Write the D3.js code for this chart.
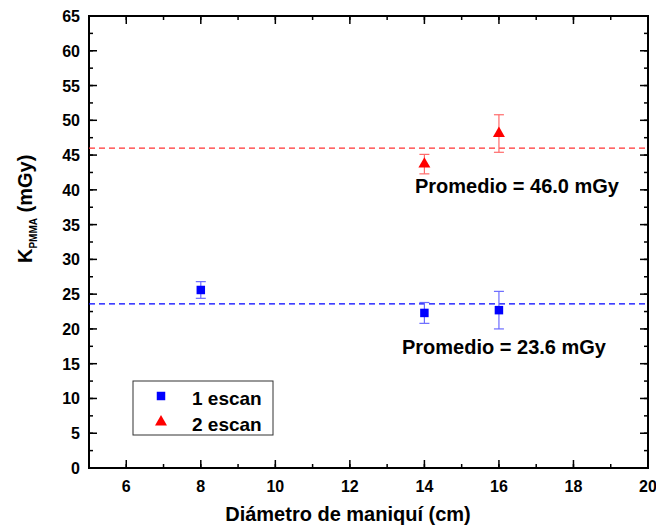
<!DOCTYPE html>
<html>
<head>
<meta charset="utf-8">
<script src="https://cdn.jsdelivr.net/npm/d3@7"></script>
<style>
  body { margin: 0; background: #fff; }
  text { font-family: "Liberation Sans", Arial, sans-serif; font-weight: bold; }
</style>
</head>
<body>
<script>
var W = 656, H = 529;
var margin = {top: 16, right: 8, bottom: 61, left: 89},
  width = W - margin.left - margin.right,
  height = H - margin.top - margin.bottom;

// data
var diam1 = [8, 14, 16];
var kerma1 = [25.6, 22.3, 22.7];
var err1 = [1.2, 1.5, 2.7];
var diam2 = [14, 16];
var kerma2 = [43.7, 48.1];
var err2 = [1.4, 2.7];
var mean1 = 23.6, mean2 = 46.0;
var xTicks = [6, 8, 10, 12, 14, 16, 18, 20];
var yTicks = [0, 5, 10, 15, 20, 25, 30, 35, 40, 45, 50, 55, 60, 65];

var x = d3.scaleLinear().domain([5, 20]).range([0, width]);
var y = d3.scaleLinear().domain([0, 65]).range([height, 0]);

var svg = d3.select("body").append("svg")
  .attr("width", W)
  .attr("height", H);

var g = svg.append("g")
  .attr("transform", "translate(" + margin.left + "," + margin.top + ")");

// ticks, inward on all four sides
var xMinor = d3.range(5, 20.01, 1);
var yMinor = d3.range(0, 65.01, 2.5);

function tickSide(vals, scale, len, side) {
  g.append("g").selectAll("line").data(vals).enter().append("line")
    .attr("x1", function(d) { return side == "b" || side == "t" ? scale(d) : (side == "l" ? 0 : width); })
    .attr("x2", function(d) { return side == "b" || side == "t" ? scale(d) : (side == "l" ? len : width - len); })
    .attr("y1", function(d) { return side == "l" || side == "r" ? scale(d) : (side == "b" ? height : 0); })
    .attr("y2", function(d) { return side == "l" || side == "r" ? scale(d) : (side == "b" ? height - len : len); })
    .attr("stroke", "#000")
    .attr("stroke-width", 1.5);
}
tickSide(xMinor, x, 4, "b");
tickSide(xMinor, x, 4, "t");
tickSide(xTicks, x, 8, "b");
tickSide(xTicks, x, 8, "t");
tickSide(yMinor, y, 4, "l");
tickSide(yMinor, y, 4, "r");
tickSide(yTicks, y, 8, "l");
tickSide(yTicks, y, 8, "r");

g.append("rect")
  .attr("width", width)
  .attr("height", height)
  .attr("fill", "none")
  .attr("stroke", "#000")
  .attr("stroke-width", 2);

// tick labels
g.append("g").selectAll("text").data(xTicks).enter().append("text")
  .attr("x", function(d) { return x(d); })
  .attr("y", height + 24)
  .attr("text-anchor", "middle")
  .style("font-size", "16px")
  .text(function(d) { return d; });

g.append("g").selectAll("text").data(yTicks).enter().append("text")
  .attr("x", -9)
  .attr("y", function(d) { return y(d) + 6; })
  .attr("text-anchor", "end")
  .style("font-size", "16px")
  .text(function(d) { return d; });

// axis titles
svg.append("text")
  .attr("x", 348)
  .attr("y", 521)
  .attr("text-anchor", "middle")
  .style("font-size", "20px")
  .text("Diámetro de maniquí (cm)");

var yl = svg.append("text")
  .attr("transform", "translate(32,263) rotate(-90)")
  .style("font-size", "20px");
yl.append("tspan").text("K");
yl.append("tspan").attr("dy", 5).style("font-size", "10px").text("PMMA");
yl.append("tspan").attr("dy", -5).text(" (mGy)");

// mean lines
g.append("line")
  .attr("x1", 0).attr("x2", width)
  .attr("y1", y(mean2)).attr("y2", y(mean2))
  .attr("stroke", "#ff3333").attr("stroke-width", 1.2)
  .attr("stroke-dasharray", "6,4");
g.append("line")
  .attr("x1", 0).attr("x2", width)
  .attr("y1", y(mean1)).attr("y2", y(mean1))
  .attr("stroke", "#0000ff").attr("stroke-width", 1.2)
  .attr("stroke-dasharray", "6,4");

// error bars
function errBars(xs, ys, es, col) {
  var e = g.append("g").selectAll("g").data(xs).enter().append("g")
    .attr("stroke", col).attr("stroke-width", 1.2);
  e.append("line")
    .attr("x1", function(d) { return x(d); })
    .attr("x2", function(d) { return x(d); })
    .attr("y1", function(d, i) { return y(ys[i] - es[i]); })
    .attr("y2", function(d, i) { return y(ys[i] + es[i]); });
  e.append("line")
    .attr("x1", function(d) { return x(d) - 5; })
    .attr("x2", function(d) { return x(d) + 5; })
    .attr("y1", function(d, i) { return y(ys[i] + es[i]); })
    .attr("y2", function(d, i) { return y(ys[i] + es[i]); });
  e.append("line")
    .attr("x1", function(d) { return x(d) - 5; })
    .attr("x2", function(d) { return x(d) + 5; })
    .attr("y1", function(d, i) { return y(ys[i] - es[i]); })
    .attr("y2", function(d, i) { return y(ys[i] - es[i]); });
}
errBars(diam1, kerma1, err1, "#6b6bff");
errBars(diam2, kerma2, err2, "#ff6b6b");

var square = d3.symbol().type(d3.symbolSquare).size(72);
var tri = d3.symbol().type(d3.symbolTriangle).size(62);

g.append("g").selectAll("path").data(diam1).enter().append("path")
  .attr("d", square)
  .attr("transform", function(d, i) { return "translate(" + x(d) + "," + y(kerma1[i]) + ")"; })
  .attr("fill", "#0000ff");

g.append("g").selectAll("path").data(diam2).enter().append("path")
  .attr("d", tri)
  .attr("transform", function(d, i) { return "translate(" + x(d) + "," + y(kerma2[i]) + ")"; })
  .attr("fill", "#ff0000");

// annotations
svg.append("text")
  .attr("x", 415).attr("y", 193)
  .style("font-size", "20px")
  .text("Promedio = " + mean2.toFixed(1) + " mGy");
svg.append("text")
  .attr("x", 402).attr("y", 354)
  .style("font-size", "20px")
  .text("Promedio = " + mean1.toFixed(1) + " mGy");

// legend
var leg = svg.append("g").attr("transform", "translate(133,381)");
leg.append("rect")
  .attr("width", 140).attr("height", 54)
  .attr("fill", "#fff").attr("stroke", "#333").attr("stroke-width", 1);
leg.append("path").attr("d", square).attr("transform", "translate(28,15)").attr("fill", "#0000ff");
leg.append("path").attr("d", tri).attr("transform", "translate(28,41)").attr("fill", "#ff0000");
leg.append("text").attr("x", 59).attr("y", 24).style("font-size", "19px").text("1 escan");
leg.append("text").attr("x", 59).attr("y", 50).style("font-size", "19px").text("2 escan");
</script>
</body>
</html>
